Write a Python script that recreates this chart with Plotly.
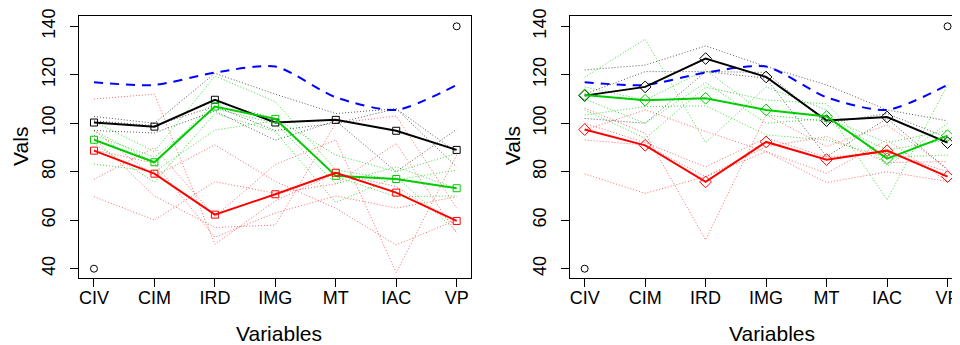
import plotly.graph_objects as go

variables = ["CIV", "CIM", "IRD", "IMG", "MT", "IAC", "VP"]
y_ticks = [40, 60, 80, 100, 120, 140]

# reference (blue dashed) profile, same in both panels
ref_profile = [116.9, 115.8, 120.9, 123.4, 110.7, 105.5, 115.8]

# ---------- left panel ----------
left_black_mean = [100.3, 98.6, 109.7, 100.3, 101.4, 96.9, 89.0]
left_green_mean = [93.2, 83.9, 106.9, 101.8, 78.3, 77.0, 73.2]
left_red_mean = [88.7, 79.2, 62.3, 70.7, 79.6, 71.4, 59.7]

left_black_ind = [
    [102.8, 100.0, 120.6, 112.0, 104.0, 106.0, 82.0],
    [97.0, 96.0, 105.0, 93.0, 101.0, 80.0, 97.5],
    [101.0, 99.0, 107.0, 97.0, 100.0, 106.0, 88.0],
]
left_green_ind = [
    [100.7, 88.3, 119.5, 108.9, 80.7, 76.6, 80.7],
    [97.0, 83.8, 108.9, 102.0, 86.9, 80.0, 87.6],
    [91.7, 75.7, 104.0, 96.6, 67.3, 78.0, 55.3],
    [83.2, 80.0, 97.2, 101.0, 78.0, 69.7, 70.0],
    [95.0, 86.0, 106.0, 100.0, 75.0, 82.0, 73.0],
]
left_red_ind = [
    [110.0, 112.0, 50.1, 68.0, 79.4, 73.9, 58.0],
    [97.0, 78.0, 91.1, 76.0, 64.9, 49.8, 60.1],
    [93.8, 70.0, 57.0, 58.0, 100.0, 103.0, 65.0],
    [76.9, 90.0, 61.5, 83.0, 93.1, 38.4, 86.9],
    [69.7, 60.1, 75.9, 71.1, 75.0, 91.7, 54.6],
    [89.0, 83.5, 53.0, 63.0, 70.0, 65.0, 69.7],
]

# ---------- right panel ----------
right_black_mean = [111.4, 115.0, 126.7, 119.1, 101.1, 102.6, 92.0]
right_green_mean = [111.7, 109.5, 110.3, 105.5, 102.8, 85.4, 94.9]
right_red_mean = [97.4, 90.9, 75.8, 92.3, 85.0, 88.7, 78.0]

right_black_ind = [
    [122.0, 124.0, 131.9, 123.4, 115.8, 105.5, 101.0],
    [102.0, 100.0, 121.3, 118.6, 86.2, 102.0, 80.7],
    [112.0, 121.3, 121.3, 121.0, 100.0, 104.0, 94.0],
]
right_green_ind = [
    [119.0, 134.7, 92.0, 115.0, 105.5, 68.4, 115.8],
    [115.0, 109.6, 122.0, 103.4, 100.7, 89.0, 93.1],
    [105.5, 93.8, 114.9, 109.6, 108.0, 82.1, 100.0],
    [103.4, 106.9, 107.2, 95.2, 93.1, 86.0, 86.9],
    [110.0, 100.0, 116.8, 100.0, 102.0, 92.0, 97.0],
]
right_red_ind = [
    [106.2, 95.9, 51.9, 103.4, 90.4, 99.3, 81.4],
    [97.2, 105.5, 96.6, 88.3, 79.4, 93.1, 75.9],
    [93.1, 91.0, 78.0, 90.4, 94.5, 83.8, 84.2],
    [79.1, 71.1, 78.0, 88.3, 75.5, 80.0, 76.0],
    [100.0, 92.0, 82.0, 94.0, 86.0, 88.0, 80.0],
]

# corner circles
circle_x = ["CIV", "VP"]
circle_y = [40, 140]

x_title = "Variables"
y_title = "Vals"

RED = "#FF0000"
GREEN = "#00CD00"
BLACK = "#000000"
BLUE = "#0000FF"
RED_D = "rgba(255,0,0,0.6)"
GREEN_D = "rgba(0,205,0,0.75)"
BLACK_D = "rgba(0,0,0,0.65)"

FONT = "Liberation Sans, Arial, sans-serif"

# figure is 952x337: the page body adds an 8px margin, so it fills 960x345
W, H = 952, 337
T, B = 8, 270  # plot box top / bottom (figure px)

fig = go.Figure()


def add_panel(xa, ya, blk_ind, grn_ind, red_ind, blk_m, grn_m, red_m, symbol, msize):
    for group, col in ((red_ind, RED_D), (grn_ind, GREEN_D), (blk_ind, BLACK_D)):
        for vals in group:
            fig.add_trace(go.Scatter(x=variables, y=vals, mode="lines",
                                     line=dict(color=col, width=1, dash="1px,2px"),
                                     xaxis=xa, yaxis=ya, showlegend=False,
                                     hoverinfo="skip"))
    fig.add_trace(go.Scatter(x=variables, y=ref_profile, mode="lines",
                             line=dict(color=BLUE, width=2, dash="9px,7px",
                                       shape="spline", smoothing=0.7),
                             xaxis=xa, yaxis=ya, showlegend=False))
    for vals, col in ((blk_m, BLACK), (grn_m, GREEN), (red_m, RED)):
        fig.add_trace(go.Scatter(x=variables, y=vals, mode="lines+markers",
                                 line=dict(color=col, width=2),
                                 marker=dict(symbol=symbol, size=msize,
                                             color=col, line=dict(width=1, color=col)),
                                 xaxis=xa, yaxis=ya, showlegend=False))
    fig.add_trace(go.Scatter(x=circle_x, y=circle_y, mode="markers",
                             marker=dict(symbol="circle-open", size=7, color=BLACK,
                                         line=dict(width=1, color=BLACK)),
                             xaxis=xa, yaxis=ya, showlegend=False))


add_panel("x", "y", left_black_ind, left_green_ind, left_red_ind,
          left_black_mean, left_green_mean, left_red_mean, "square-open", 7)
add_panel("x2", "y2", right_black_ind, right_green_ind, right_red_ind,
          right_black_mean, right_green_mean, right_red_mean, "diamond-open", 9)

common_x = dict(type="category", categoryorder="array", categoryarray=variables,
                showgrid=False, zeroline=False, showline=True, linecolor="black",
                linewidth=1, ticks="outside", ticklen=8, tickcolor="black",
                ticklabelstandoff=-5,
                tickfont=dict(family=FONT, size=18, color="black"))
common_y = dict(range=[36.16, 144.25], tickvals=y_ticks, showgrid=False, zeroline=False,
                showline=True, linecolor="black", linewidth=1, ticks="outside",
                ticklen=8, tickcolor="black", tickangle=-90, ticklabelstandoff=8,
                tickfont=dict(family=FONT, size=18, color="black"))

left_dom = [72 / W, 466 / W]
right_dom = [566.3 / W, 1.0]

fig.update_layout(
    width=W, height=H, autosize=False,
    margin=dict(l=0, r=0, t=T, b=H - B),
    paper_bgcolor="white", plot_bgcolor="white",
    showlegend=False,
    xaxis=dict(common_x, domain=left_dom, range=[-0.24, 6.23], mirror=True, anchor="y"),
    yaxis=dict(common_y, domain=[0, 1], mirror=True, anchor="x"),
    xaxis2=dict(common_x, domain=right_dom, range=[-0.24, 6.09], mirror=True, anchor="y2"),
    yaxis2=dict(common_y, domain=[0, 1], mirror=False, anchor="x2"),
)

ph = B - T
title_y = (B - 325) / ph
vals_y = (B - 138) / ph
annos = [
    dict(text=x_title, x=273 / W, y=title_y),
    dict(text=x_title, x=770 / W, y=title_y),
    dict(text=y_title, x=12 / W, y=vals_y, textangle=-90),
    dict(text=y_title, x=508 / W, y=vals_y, textangle=-90),
]
for a in annos:
    fig.add_annotation(xref="paper", yref="paper", showarrow=False,
                       xanchor="center", yanchor="middle",
                       font=dict(family=FONT, size=21, color="black"), **a)

fig.write_html("out.html")
